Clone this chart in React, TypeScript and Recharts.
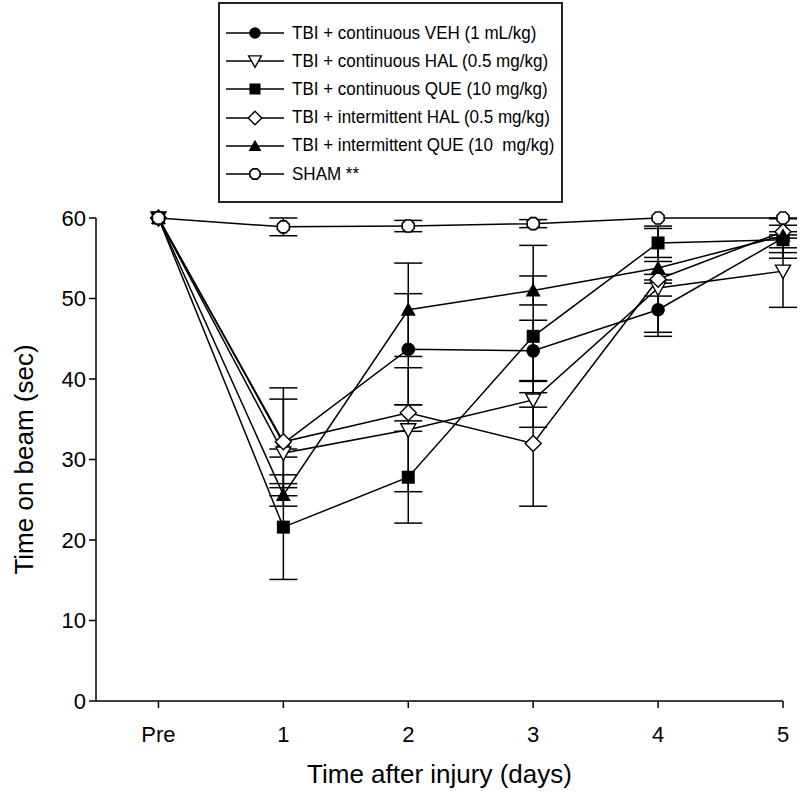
import { ErrorBar, Label, Legend, Line, LineChart, XAxis, YAxis } from 'recharts';

const dayLabels = ['Pre', '1', '2', '3', '4', '5'];
const dayIndex = [0, 1, 2, 3, 4, 5];

const vehCont = [60, 32.0, 43.7, 43.5, 48.6, 57.5];
const vehContErr = [0, 5.5, 6.9, 3.8, 3.3, 2.5];
const halCont = [60, 30.8, 33.7, 37.4, 51.3, 53.4];
const halContErr = [0, 0.5, 7.7, 0.9, 1.0, 4.5];
const queCont = [60, 21.6, 27.8, 45.3, 56.9, 57.3];
const queContErr = [0, 6.5, 5.7, 11.3, 1.8, 1.0];
const halInt = [60, 32.2, 35.8, 32.0, 52.4, 58.3];
const halIntErr = [0, 6.7, 1.0, 7.8, 6.6, 0.8];
const queInt = [60, 25.6, 48.6, 51.0, 53.8, 57.8];
const queIntErr = [0, 1.4, 5.8, 1.8, 0.8, 2.1];
const sham = [60, 58.9, 59.0, 59.3, 60, 60];
const shamErr = [0, 1.1, 0.7, 0.5, 0, 0];

const seriesNames = [
  'TBI + continuous VEH (1 mL/kg)',
  'TBI + continuous HAL (0.5 mg/kg)',
  'TBI + continuous QUE (10 mg/kg)',
  'TBI + intermittent HAL (0.5 mg/kg)',
  'TBI + intermittent QUE (10  mg/kg)',
  'SHAM **',
];

type Shape = 'circle' | 'triDown' | 'square' | 'diamond' | 'triUp' | 'hex';

const series: { key: string; name: string; shape: Shape }[] = [
  { key: 'vehCont', name: seriesNames[0], shape: 'circle' },
  { key: 'halCont', name: seriesNames[1], shape: 'triDown' },
  { key: 'queCont', name: seriesNames[2], shape: 'square' },
  { key: 'halInt', name: seriesNames[3], shape: 'diamond' },
  { key: 'queInt', name: seriesNames[4], shape: 'triUp' },
  { key: 'sham', name: seriesNames[5], shape: 'hex' },
];

const data = dayIndex.map((x, i) => ({
  x,
  vehCont: vehCont[i],
  vehContErr: vehContErr[i],
  halCont: halCont[i],
  halContErr: halContErr[i],
  queCont: queCont[i],
  queContErr: queContErr[i],
  halInt: halInt[i],
  halIntErr: halIntErr[i],
  queInt: queInt[i],
  queIntErr: queIntErr[i],
  sham: sham[i],
  shamErr: shamErr[i],
}));

const FONT = '"Liberation Sans", Arial, sans-serif';

function Marker({ shape, cx, cy, scale = 1 }: { shape: Shape; cx: number; cy: number; scale?: number }) {
  const s = scale;
  const stroke = '#000';
  switch (shape) {
    case 'circle':
      return <circle cx={cx} cy={cy} r={6.8 * s} fill="#000" />;
    case 'square':
      return <rect x={cx - 6.5 * s} y={cy - 6.5 * s} width={13 * s} height={13 * s} fill="#000" />;
    case 'triUp':
      return (
        <polygon
          points={`${cx},${cy - 7.5 * s} ${cx + 7.5 * s},${cy + 6 * s} ${cx - 7.5 * s},${cy + 6 * s}`}
          fill="#000"
        />
      );
    case 'triDown':
      return (
        <polygon
          points={`${cx - 7.5 * s},${cy - 6 * s} ${cx + 7.5 * s},${cy - 6 * s} ${cx},${cy + 7.5 * s}`}
          fill="#fff"
          stroke={stroke}
          strokeWidth={1.4}
        />
      );
    case 'diamond':
      return (
        <polygon
          points={`${cx},${cy - 8 * s} ${cx + 8 * s},${cy} ${cx},${cy + 8 * s} ${cx - 8 * s},${cy}`}
          fill="#fff"
          stroke={stroke}
          strokeWidth={1.4}
        />
      );
    default: {
      // sham marker: small open octagon
      const r = 6.5 * s;
      const pts = [0, 1, 2, 3, 4, 5, 6, 7]
        .map((k) => {
          const a = (Math.PI / 4) * k + Math.PI / 8;
          return `${cx + r * Math.cos(a)},${cy + r * Math.sin(a)}`;
        })
        .join(' ');
      return <polygon points={pts} fill="#fff" stroke={stroke} strokeWidth={1.6} />;
    }
  }
}

function LegendBox() {
  return (
    <div
      style={{
        width: 345,
        height: 201,
        border: '2px solid #222',
        background: '#fff',
        fontFamily: FONT,
        fontSize: 18,
        color: '#000',
        paddingTop: 15,
        boxSizing: 'border-box',
      }}
    >
      {series.map((s) => (
        <div key={s.key} style={{ display: 'flex', alignItems: 'center', height: 28.2 }}>
          <svg width={72} height={20} style={{ flex: 'none' }}>
            <line x1={6} y1={10} x2={64} y2={10} stroke="#000" strokeWidth={1.5} />
            <Marker shape={s.shape} cx={35} cy={10} scale={0.85} />
          </svg>
          <span
            style={{
              whiteSpace: 'pre',
              display: 'inline-block',
              transform: 'scaleX(0.945)',
              transformOrigin: 'left center',
            }}
          >
            {s.name}
          </span>
        </div>
      ))}
    </div>
  );
}

export default function App() {
  return (
    <div style={{ position: 'absolute', left: 0, top: 0, background: '#fff' }}>
      <LineChart
        width={800}
        height={797}
        data={data}
        margin={{ top: 218, right: 17, bottom: 0, left: 0 }}
        style={{ fontFamily: FONT }}
      >
        <XAxis
          type="number"
          dataKey="x"
          domain={[-0.5, 5]}
          ticks={dayIndex}
          tickFormatter={(v) => dayLabels[v]}
          height={96}
          tickSize={7}
          tickMargin={18}
          stroke="#000"
          strokeWidth={1.5}
          tick={{ fontSize: 22, fill: '#000' }}
        >
          <Label
            value="Time after injury (days)"
            position="insideBottom"
            offset={14}
            style={{ fontSize: 26, fill: '#000' }}
          />
        </XAxis>
        <YAxis
          type="number"
          domain={[0, 60]}
          ticks={[0, 10, 20, 30, 40, 50, 60]}
          width={96}
          tickSize={7}
          tickMargin={3}
          stroke="#000"
          strokeWidth={1.5}
          tick={{ fontSize: 22, fill: '#000' }}
        >
          <Label
            content={(props: any) => {
              const vb = props.viewBox || {};
              const cy = vb.y + vb.height / 2;
              return (
                <text
                  x={24}
                  y={cy}
                  transform={`rotate(-90, 24, ${cy})`}
                  textAnchor="middle"
                  dominantBaseline="central"
                  style={{ fontSize: 26, fill: '#000' }}
                >
                  Time on beam (sec)
                </text>
              );
            }}
          />
        </YAxis>
        <Legend
          layout="vertical"
          align="center"
          verticalAlign="middle"
          wrapperStyle={{ left: 218, top: 2, width: 345, height: 201 }}
          content={() => <LegendBox />}
        />
        {series.map((s) => (
          <Line
            key={s.key}
            type="linear"
            dataKey={s.key}
            name={s.name}
            stroke="#000"
            strokeWidth={1.5}
            isAnimationActive={false}
            activeDot={false}
            dot={(p: any) => (
              <Marker key={`${s.key}-${p.index}`} shape={s.shape} cx={p.cx} cy={p.cy} />
            )}
          >
            <ErrorBar dataKey={`${s.key}Err`} width={14} stroke="#000" strokeWidth={1.5} direction="y" />
          </Line>
        ))}
      </LineChart>
    </div>
  );
}
